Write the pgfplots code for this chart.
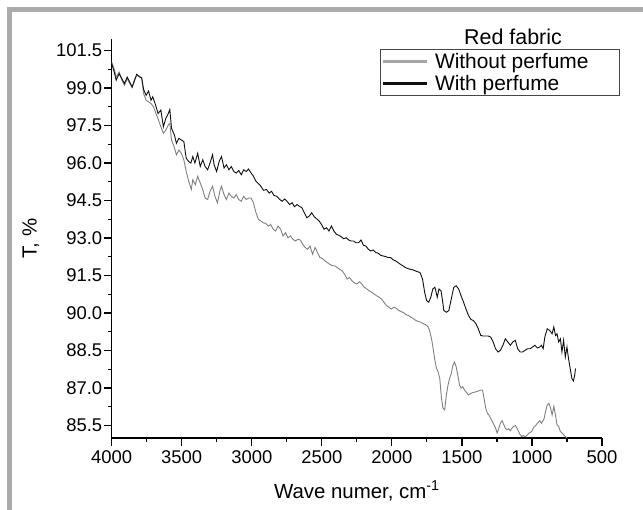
\documentclass[border=0pt]{standalone}
\usepackage{pgfplots}
\pgfplotsset{compat=1.18}
\usepackage{fontspec}
\setmainfont{Liberation Sans}
\definecolor{framegray}{RGB}{170,171,173}
\definecolor{curvegray}{RGB}{128,128,128}
\definecolor{leggray}{RGB}{165,165,165}
\definecolor{curveblack}{RGB}{15,15,15}
\definecolor{boxgray}{RGB}{70,70,70}
\newcommand{\legfont}{\fontsize{21}{21}\selectfont}
\begin{document}
\begin{tikzpicture}
\path[use as bounding box, fill=white] (0,0) rectangle (643bp,510bp);
\fill[framegray] (7bp,0) rectangle (12bp,503bp);
\fill[framegray] (7bp,498bp) rectangle (643bp,503bp);
\begin{axis}[
  at={(111.7bp,72bp)}, anchor=south west,
  scale only axis, width=490.3bp, height=398.7bp,
  x dir=reverse,
  xmin=500, xmax=4000, ymin=85.0, ymax=100.95,
  axis x line=bottom, axis y line=left,
  axis line style={-, line width=1.2bp, black},
  every outer x axis line/.append style={-},
  every outer y axis line/.append style={-},
  tick align=outside,
  major tick length=8bp, minor tick length=4bp,
  tick style={line width=1.2bp, black},
  xtick={500,1000,1500,2000,2500,3000,3500,4000},
  xticklabels={500,1000,1500,2000,2500,3000,3500,4000},
  ytick={85.5,87,88.5,90,91.5,93,94.5,96,97.5,99,100.5},
  yticklabels={85.5,87.0,88.5,90.0,91.5,93.0,94.5,96.0,97.5,99.0,101.5},
  minor x tick num=1, minor y tick num=1,
  ticklabel style={font=\fontsize{18.5}{18.5}\selectfont},
  yticklabel style={xshift=2bp},
  xticklabel style={yshift=-1bp},
  xlabel={Wave numer, cm\textsuperscript{-1}},
  ylabel={T, \%},
  label style={font=\fontsize{20.5}{20.5}\selectfont},
  xlabel style={at={(axis description cs:0.5,-0.133)}, anchor=center},
  ylabel style={at={(axis description cs:-0.165,0.5)}, anchor=center},
  legend style={at={(axis description cs:1.0367,0.975)}, anchor=north east,
    draw=boxgray, line width=1bp, inner xsep=1bp, inner ysep=1.5bp,
    font=\legfont, cells={anchor=west}, row sep=1bp},
  legend cell align=left,
  legend image code/.code={\draw[#1] (0bp,0bp) -- (44bp,0bp); \path (49bp,0bp);},
]
\addlegendimage{leggray, line width=3bp}
\addlegendentry{\legfont Without perfume\rule{28bp}{0pt}}
\addlegendimage{curveblack, line width=3bp}
\addlegendentry{\legfont With perfume}

\addplot[forget plot, curvegray, line width=0.9bp] coordinates {
(4000,100.04) (3982,99.77) (3968,99.44) (3947,99.64) (3927,99.31) (3909,99.11)
(3889,99.37) (3871,99.18) (3854,99.02) (3836,99.37) (3819,99.51) (3801,99.47)
(3786,99.41) (3772,98.78) (3754,98.51) (3737,98.45) (3719,98.38) (3702,98.25)
(3684,97.98) (3666,97.72) (3649,97.45) (3631,97.19) (3614,97.32) (3596,97.52)
(3585,97.58) (3573,96.92) (3555,96.66) (3538,96.33) (3520,96.52) (3503,96.39)
(3485,96.13) (3468,95.66) (3450,95.27) (3432,94.94) (3421,95.33) (3403,95.13)
(3386,95.47) (3368,95.20) (3350,94.94) (3333,94.60) (3315,94.54) (3298,94.87)
(3280,95.07) (3263,94.67) (3245,94.41) (3228,94.87) (3216,95.07) (3198,94.74)
(3181,94.54) (3163,94.80) (3146,94.67) (3128,94.60) (3111,94.74) (3093,94.54)
(3075,94.47) (3058,94.67) (3040,94.54) (3023,94.60) (3005,94.60) (2988,94.41)
(2970,94.01) (2952,93.74) (2935,93.68) (2917,93.61) (2900,93.58) (2882,93.48)
(2865,93.54) (2847,93.35) (2830,93.28) (2812,93.48) (2794,93.35) (2777,93.08)
(2759,93.21) (2742,93.01) (2724,93.08) (2707,92.95) (2689,92.88) (2671,92.95)
(2654,92.92) (2636,92.75) (2619,92.62) (2601,92.55) (2584,92.68) (2566,92.35)
(2548,92.62) (2531,92.42) (2513,92.22) (2496,92.18) (2478,92.09) (2461,92.02)
(2443,91.95) (2425,91.89) (2408,91.89) (2390,91.82) (2373,91.75) (2355,91.69)
(2338,91.56) (2320,91.36) (2302,91.42) (2285,91.29) (2267,91.20) (2250,91.16)
(2232,91.25) (2215,91.16) (2197,91.03) (2179,90.96) (2162,90.89) (2144,90.83)
(2127,90.76) (2109,90.69) (2091,90.63) (2074,90.56) (2056,90.43) (2039,90.30)
(2021,90.23) (2004,90.16) (1986,90.23) (1968,90.19) (1951,90.10) (1933,90.06)
(1916,90.01) (1898,89.93) (1881,89.90) (1863,89.83) (1845,89.77) (1828,89.70)
(1810,89.66) (1793,89.63) (1775,89.57) (1758,89.53) (1740,89.44) (1728,89.24)
(1717,88.97) (1705,88.57) (1693,88.11) (1681,87.78) (1670,87.65) (1658,87.38)
(1646,86.59) (1635,86.19) (1623,86.12) (1611,86.72) (1599,87.12) (1588,87.38)
(1576,87.58) (1564,87.91) (1553,88.04) (1541,87.85) (1529,87.51) (1517,87.12)
(1506,86.99) (1494,87.05) (1482,86.92) (1471,86.85) (1453,86.72) (1435,86.79)
(1418,86.82) (1400,86.85) (1383,86.88) (1365,86.92) (1353,86.92) (1342,86.59)
(1330,86.19) (1318,85.99) (1307,85.92) (1295,85.79) (1283,85.66) (1271,85.53)
(1260,85.40) (1248,85.20) (1236,85.40) (1225,85.59) (1213,85.69) (1201,85.53)
(1190,85.40) (1178,85.33) (1166,85.37) (1154,85.29) (1143,85.40) (1131,85.46)
(1119,85.50) (1108,85.40) (1096,85.26) (1084,85.13) (1072,85.06) (1061,85.10)
(1049,85.05) (1031,85.13) (1020,85.20) (1002,85.26) (990,85.40) (973,85.50)
(961,85.59) (944,85.69) (932,85.59) (914,85.76) (903,86.06) (891,86.32)
(879,86.39) (867,86.19) (856,85.92) (844,86.26) (832,85.92) (821,85.53)
(809,85.46) (797,85.26) (786,85.20) (774,85.13) (762,85.06) (750,85.00)
};

\addplot[forget plot, curveblack, line width=0.9bp] coordinates {
(4000,99.97) (3982,99.64) (3968,99.31) (3947,99.57) (3927,99.37) (3909,99.18)
(3889,99.44) (3871,99.24) (3854,99.04) (3836,99.31) (3822,99.55) (3801,99.44)
(3786,99.41) (3772,98.94) (3754,98.71) (3737,98.88) (3719,98.51) (3707,98.65)
(3690,98.38) (3669,97.98) (3649,98.12) (3631,97.45) (3614,97.78) (3596,97.98)
(3585,98.14) (3573,97.39) (3552,97.12) (3538,96.79) (3520,96.99) (3503,96.92)
(3485,96.86) (3468,96.19) (3450,96.06) (3435,96.00) (3421,96.26) (3406,96.00)
(3386,96.39) (3368,95.86) (3350,96.13) (3333,95.86) (3315,95.73) (3298,96.00)
(3280,96.33) (3269,95.93) (3251,95.66) (3233,96.06) (3216,96.26) (3198,95.80)
(3181,95.93) (3163,95.73) (3146,95.86) (3128,95.66) (3111,95.60) (3093,95.70)
(3075,95.53) (3058,95.73) (3040,95.66) (3023,95.76) (3005,95.60) (2988,95.47)
(2970,95.27) (2952,95.17) (2935,95.07) (2917,94.91) (2894,94.94) (2876,94.80)
(2859,94.87) (2841,94.70) (2821,94.67) (2800,94.54) (2783,94.47) (2765,94.56)
(2748,94.47) (2730,94.34) (2712,94.41) (2695,94.25) (2677,94.34) (2660,94.27)
(2642,94.21) (2625,94.01) (2607,93.81) (2589,93.88) (2572,94.01) (2554,93.85)
(2537,93.77) (2519,93.68) (2502,93.54) (2484,93.35) (2466,93.41) (2449,93.28)
(2431,93.48) (2414,93.28) (2396,93.15) (2379,93.11) (2361,93.05) (2343,92.97)
(2326,93.01) (2308,92.92) (2291,92.88) (2273,92.88) (2256,92.81) (2238,92.81)
(2220,92.92) (2203,92.71) (2185,92.68) (2168,92.55) (2150,92.48) (2133,92.52)
(2115,92.42) (2097,92.39) (2080,92.31) (2062,92.28) (2045,92.26) (2027,92.22)
(2009,92.22) (1992,92.13) (1974,92.09) (1957,92.02) (1939,91.95) (1922,91.89)
(1904,91.82) (1886,91.78) (1869,91.75) (1851,91.73) (1834,91.69) (1816,91.65)
(1799,91.62) (1781,91.36) (1766,90.83) (1752,90.50) (1737,90.43) (1722,90.63)
(1708,90.96) (1693,91.03) (1684,90.83) (1676,90.63) (1664,90.96) (1649,90.89)
(1640,90.56) (1629,90.10) (1611,90.03) (1593,90.10) (1576,90.56) (1558,91.03)
(1541,91.09) (1523,90.96) (1506,90.69) (1488,90.43) (1471,90.16) (1453,89.90)
(1435,89.74) (1418,89.70) (1400,89.57) (1383,89.37) (1365,89.10) (1348,89.08)
(1330,89.08) (1312,89.08) (1295,89.04) (1277,88.84) (1260,88.57) (1242,88.44)
(1225,88.51) (1207,88.71) (1190,88.97) (1172,88.84) (1154,88.71) (1137,88.84)
(1119,88.91) (1102,88.57) (1084,88.44) (1067,88.44) (1049,88.51) (1031,88.57)
(1014,88.57) (996,88.64) (979,88.71) (961,88.60) (944,88.64) (932,88.71)
(920,88.57) (908,89.04) (891,89.37) (873,89.30) (856,89.17) (844,89.44)
(832,89.10) (821,89.17) (809,88.84) (797,88.97) (786,88.44) (774,88.91)
(762,88.24) (750,88.64) (739,88.18) (727,87.78) (715,87.38) (704,87.28)
(695,87.51) (689,87.78)
};
\end{axis}
\node[font=\fontsize{21.5}{21.5}\selectfont] at (513bp,473bp) {Red fabric};
\end{tikzpicture}
\end{document}
